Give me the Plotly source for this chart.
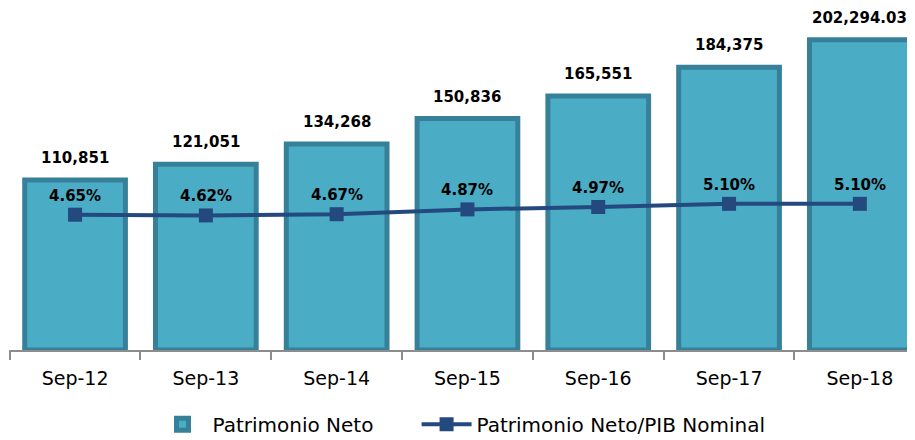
import plotly.graph_objects as go

categories = ["Sep-12", "Sep-13", "Sep-14", "Sep-15", "Sep-16", "Sep-17", "Sep-18"]
patrimonio = [110851, 121051, 134268, 150836, 165551, 184375, 202294.03]
patrimonio_labels = ["110,851", "121,051", "134,268", "150,836", "165,551", "184,375", "202,294.03"]
ratio = [4.65, 4.62, 4.67, 4.87, 4.97, 5.10, 5.10]
ratio_labels = ["4.65%", "4.62%", "4.67%", "4.87%", "4.97%", "5.10%", "5.10%"]
series_names = ["Patrimonio Neto", "Patrimonio Neto/PIB Nominal"]

FONT = "DejaVu Sans"
PAD = "\u00a0" * 6
fig = go.Figure()
fig.add_trace(go.Bar(
    x=categories, y=patrimonio, name=series_names[0] + PAD, width=0.77,
    marker=dict(color="#4BACC6", line=dict(color="#37809A", width=5)),
))
fig.add_trace(go.Scatter(
    x=categories, y=ratio, name=series_names[1], yaxis="y2",
    mode="lines+markers", line=dict(color="#23497F", width=4),
    marker=dict(symbol="square", size=14, color="#23497F"),
))

annotations = []
for c, v, t in zip(categories, patrimonio, patrimonio_labels):
    annotations.append(dict(x=c, y=v, text=f"<b>{t}</b>", showarrow=False, yref="y",
                            yshift=22, font=dict(family=FONT, size=15, color="#000")))
for c, v, t in zip(categories, ratio, ratio_labels):
    annotations.append(dict(x=c, y=v, text=f"<b>{t}</b>", showarrow=False, yref="y2",
                            yshift=19, font=dict(family=FONT, size=15, color="#000")))

fig.update_layout(
    width=907, height=436,
    margin=dict(l=1, r=1, t=0, b=90),
    paper_bgcolor="white", plot_bgcolor="white",
    font=dict(family=FONT, size=19, color="#000"),
    showlegend=True,
    legend=dict(orientation="h", x=0.5, xanchor="center", y=-0.217, yanchor="middle",
                itemwidth=50,
                font=dict(family=FONT, size=20, color="#000")),
    xaxis=dict(type="category", range=[-0.505, 6.414], showline=True, linecolor="#8C8C8C",
               linewidth=1.5, ticks="outside", tickson="boundaries", ticklen=8,
               tickcolor="#8C8C8C", tickwidth=1.5, showgrid=False, automargin=False,
               ticklabelstandoff=10,
               tickfont=dict(family=FONT, size=19, color="#000")),
    yaxis=dict(range=[0, 222940], visible=False, showgrid=False, automargin=False),
    yaxis2=dict(range=[-0.96, 13.22], overlaying="y", visible=False, showgrid=False,
                automargin=False),
    annotations=annotations,
    bargap=0.2,
)

fig.write_html("out.html")
